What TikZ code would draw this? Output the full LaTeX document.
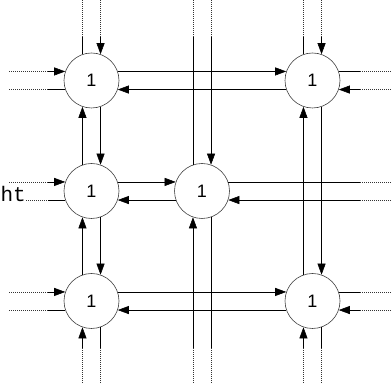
\documentclass[tikz,border=0pt]{standalone}
\usepackage{fontspec}
\setsansfont{Liberation Sans}
\setmonofont{Liberation Mono}
\usetikzlibrary{arrows.meta}
\tikzset{
  nd/.style={circle, draw=black!75, line width=0.6pt, minimum size=55pt, inner sep=0pt,
             font=\fontsize{18}{18}\selectfont\sffamily},
  ln/.style={line width=0.55pt, black},
  arr/.style={ln, -{Triangle[length=11pt,width=8pt]}},
  dot/.style={line width=0.55pt, black!80, dash pattern=on 1pt off 1pt},
}
\begin{document}
\begin{tikzpicture}[x=1pt,y=1pt]
\useasboundingbox (0,0) rectangle (391,390);
% boundary coordinates
\coordinate (Ld) at (48,0);  \coordinate (Le) at (9,0);
\coordinate (Rd) at (360,0); \coordinate (Re) at (391,0);
\coordinate (Td) at (0,353); \coordinate (Te) at (0,390);
\coordinate (Bd) at (0,42);  \coordinate (Be) at (0,7);
% nodes
\node[nd] (TL) at (91.5,309.5) {1};
\node[nd] (TR) at (312.5,309.5) {1};
\node[nd] (ML) at (91.5,199) {1};
\node[nd] (MM) at (202,199) {1};
\node[nd] (BL) at (91.5,89) {1};
\node[nd] (BR) at (312.5,89) {1};
\node[font=\fontsize{21}{21}\selectfont\ttfamily, anchor=base east, inner sep=0pt] (lab) at (26,188.5) {ht};

% ---------- internal horizontal links
\draw[arr] (TL.19) -- (TR.161);
\draw[arr] (TR.199) -- (TL.-19);
\draw[arr] (ML.19) -- (MM.161);
\draw[arr] (MM.199) -- (ML.-19);
\draw[arr] (BL.19) -- (BR.161);
\draw[arr] (BR.199) -- (BL.-19);
% ---------- internal vertical links
\draw[arr] (ML.109) -- (TL.251);
\draw[arr] (TL.289) -- (ML.71);
\draw[arr] (BL.109) -- (ML.251);
\draw[arr] (ML.289) -- (BL.71);
\draw[arr] (BR.109) -- (TR.251);
\draw[arr] (TR.289) -- (BR.71);

% ---------- left stubs
\foreach \n in {TL,ML,BL}{
  \draw[dot] (\n.161 -| Le) -- (\n.161 -| Ld);
  \draw[arr] (\n.161 -| Ld) -- (\n.161);
}
\foreach \n in {TL,BL}{
  \draw[dot] (\n.199 -| Le) -- (\n.199 -| Ld);
  \draw[ln] (\n.199 -| Ld) -- (\n.199);
}
\draw[dot] (lab.base east |- ML.199) -- (ML.199 -| Ld);
\draw[ln] (ML.199 -| Ld) -- (ML.199);

% ---------- right stubs
\foreach \n in {TR,MM,BR}{
  \draw[ln] (\n.19) -- (\n.19 -| Rd);
  \draw[dot] (\n.19 -| Rd) -- (\n.19 -| Re);
  \draw[dot] (\n.-19 -| Re) -- (\n.-19 -| Rd);
  \draw[arr] (\n.-19 -| Rd) -- (\n.-19);
}

% ---------- top stubs
\foreach \n in {TL,MM,TR}{
  \draw[ln] (\n.109) -- (\n.109 |- Td);
  \draw[dot] (\n.109 |- Td) -- (\n.109 |- Te);
  \draw[dot] (\n.71 |- Te) -- (\n.71 |- Td);
  \draw[arr] (\n.71 |- Td) -- (\n.71);
}

% ---------- bottom stubs
\foreach \n in {BL,MM,BR}{
  \draw[dot] (\n.251 |- Be) -- (\n.251 |- Bd);
  \draw[arr] (\n.251 |- Bd) -- (\n.251);
  \draw[ln] (\n.289) -- (\n.289 |- Bd);
  \draw[dot] (\n.289 |- Bd) -- (\n.289 |- Be);
}
\end{tikzpicture}
\end{document}
